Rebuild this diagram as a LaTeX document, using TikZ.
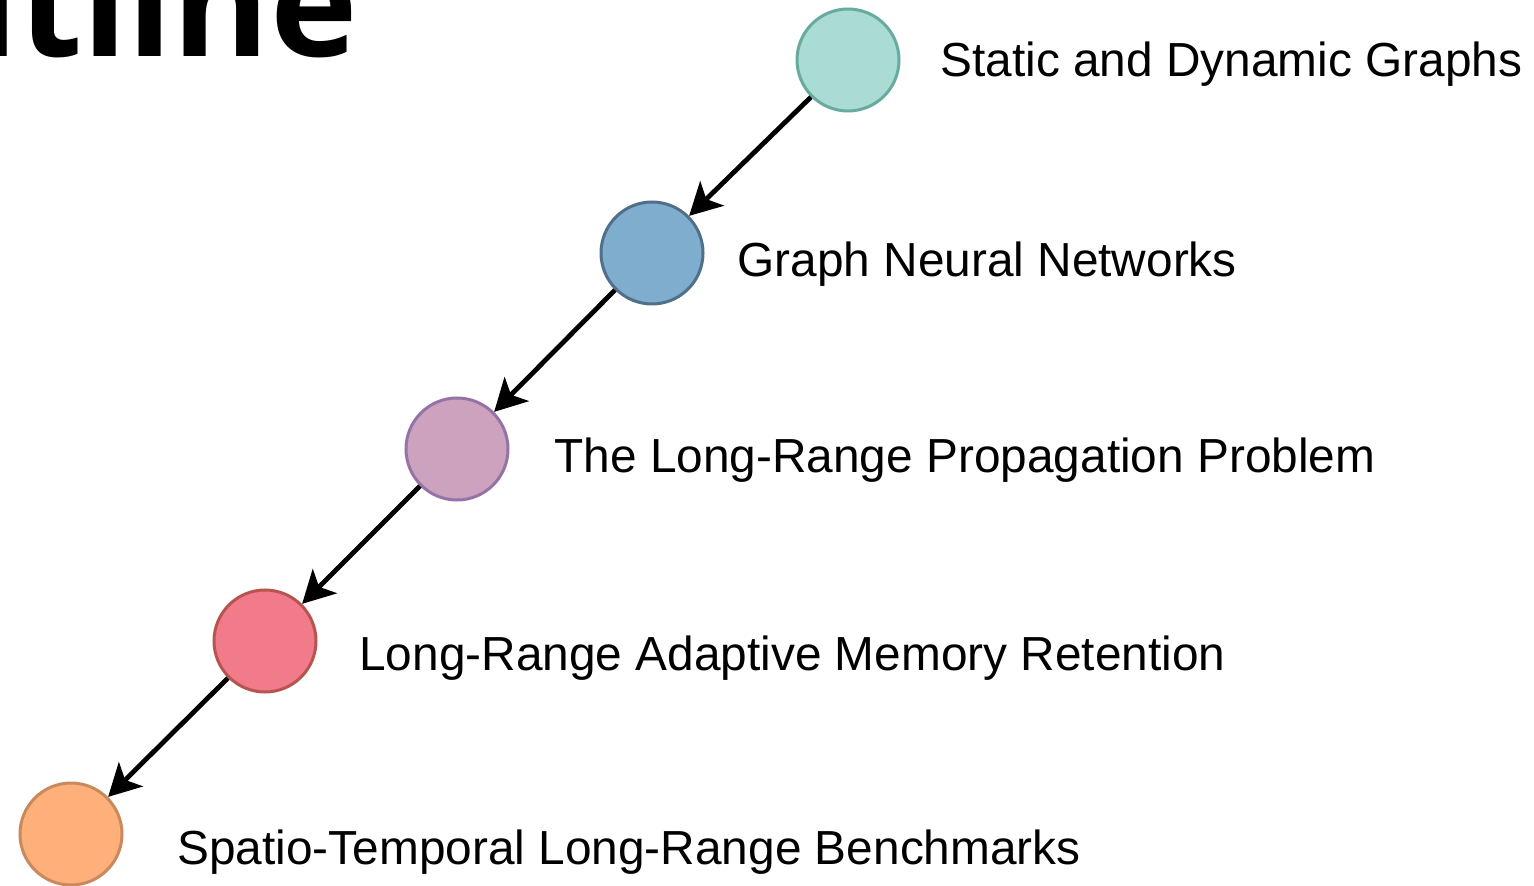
\documentclass[tikz,border=0pt]{standalone}
\usepackage{fontspec}
\setmainfont{Liberation Sans}
\newfontfamily\titlefont{Open Sans}
\usetikzlibrary{arrows.meta}
\definecolor{tealF}{HTML}{AADCD5}
\definecolor{tealS}{HTML}{67AB9F}
\definecolor{blueF}{HTML}{7FADCD}
\definecolor{blueS}{HTML}{4F6F8A}
\definecolor{purpF}{HTML}{CDA2BE}
\definecolor{purpS}{HTML}{9673A6}
\definecolor{redF}{HTML}{F17A8B}
\definecolor{redS}{HTML}{B85450}
\definecolor{orgF}{HTML}{FFB07A}
\definecolor{orgS}{HTML}{C8895C}
\tikzset{
  dot/.style={circle, draw=#1S, fill=#1F, line width=1.5pt, minimum size=51pt, inner sep=0pt},
  lbl/.style={anchor=base west, inner sep=0pt, font=\fontsize{23.9}{28}\selectfont},
  flow/.style={line width=2.4pt, -{Stealth[length=16pt,width=17pt,inset=4pt]}}
}
\begin{document}
\begin{tikzpicture}[x=0.5pt,y=-0.5pt]
\useasboundingbox (0,0) rectangle (1534,886);
\node[anchor=base east, inner sep=0pt, font=\titlefont\bfseries\fontsize{74}{78}\selectfont] (title) at (358,57) {Outline};
\node[dot=teal] (n1) at (848,60) {};
\node[dot=blue] (n2) at (652,253) {};
\node[dot=purp] (n3) at (457,449) {};
\node[dot=red] (n4) at (265,641) {};
\node[dot=org] (n5) at (71,834) {};
\node[lbl] (t1) at (940,77) {Static and Dynamic Graphs};
\node[lbl] (t2) at (737,277) {Graph Neural Networks};
\node[lbl] (t3) at (554,473) {The Long-Range Propagation Problem};
\node[lbl] (t4) at (359,670) {Long-Range Adaptive Memory Retention};
\node[lbl] (t5) at (177,864) {Spatio-Temporal Long-Range Benchmarks};
\draw[flow] (n1.225) -- (n2.45);
\draw[flow] (n2.225) -- (n3.45);
\draw[flow] (n3.225) -- (n4.45);
\draw[flow] (n4.225) -- (n5.45);
\end{tikzpicture}
\end{document}
